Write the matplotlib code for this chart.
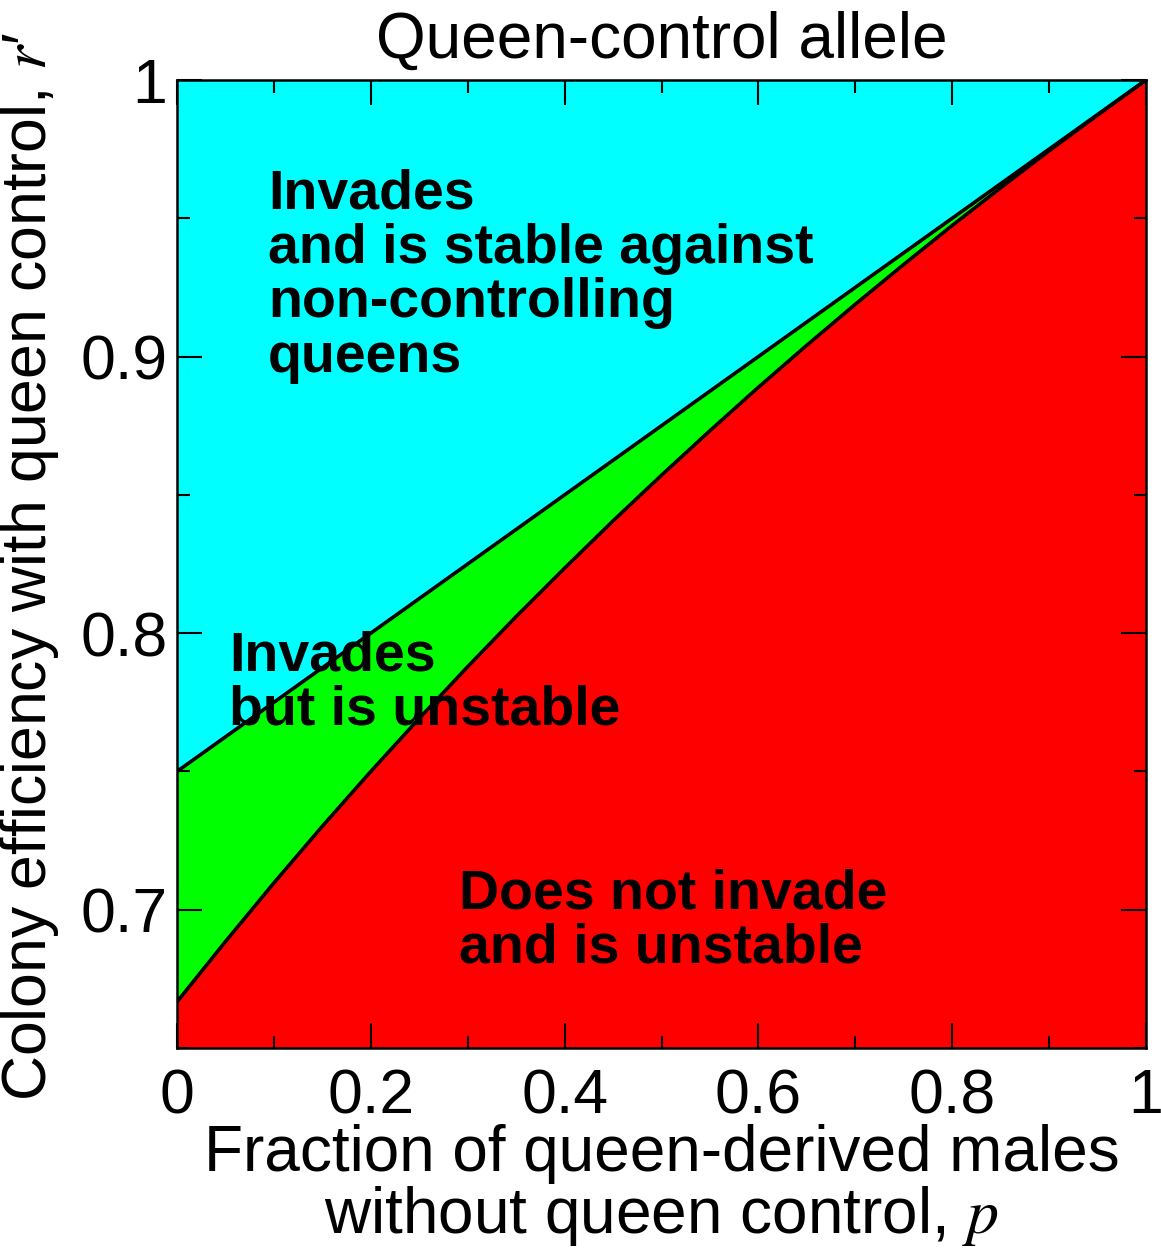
import numpy as np
import matplotlib
matplotlib.use("Agg")
import matplotlib.pyplot as plt
from matplotlib.ticker import MultipleLocator

plt.rcParams['font.family'] = ['Liberation Sans', 'DejaVu Sans']
plt.rcParams['mathtext.fontset'] = 'stix'

# boundaries
p = [0.0, 0.05, 0.1, 0.15, 0.2, 0.25, 0.3, 0.35, 0.4, 0.45, 0.5,
     0.55, 0.6, 0.65, 0.7, 0.75, 0.8, 0.85, 0.9, 0.95, 1.0]
r_stable = [0.75, 0.7625, 0.775, 0.7875, 0.8, 0.8125, 0.825, 0.8375, 0.85, 0.8625, 0.875,
            0.8875, 0.9, 0.9125, 0.925, 0.9375, 0.95, 0.9625, 0.975, 0.9875, 1.0]
r_invade = [0.6667, 0.6885, 0.7097, 0.7302, 0.75, 0.7692, 0.7879, 0.806, 0.8235, 0.8406, 0.8571,
            0.8732, 0.8889, 0.9041, 0.9189, 0.9333, 0.9474, 0.961, 0.9744, 0.9873, 1.0]

ymin = 0.65

fig = plt.figure(figsize=(11.61, 12.53), dpi=100)
ax = fig.add_axes([0.1525, 0.1636, 0.8346, 0.7726])
ax.set_facecolor('#00ffff')

ax.fill_between(p, r_invade, r_stable, color='#00ff00', lw=0)
ax.fill_between(p, ymin, r_invade, color='#ff0000', lw=0)
ax.plot(p, r_stable, color='black', lw=2.6, solid_joinstyle='round')
ax.plot(p, r_invade, color='black', lw=2.6, solid_joinstyle='round')

ax.set_xlim(0, 1)
ax.set_ylim(ymin, 1)
ax.xaxis.set_minor_locator(MultipleLocator(0.1))
ax.yaxis.set_minor_locator(MultipleLocator(0.05))
ax.set_xticks([0, 0.2, 0.4, 0.6, 0.8, 1.0])
ax.set_xticklabels(['0', '0.2', '0.4', '0.6', '0.8', '1'])
ax.set_yticks([0.7, 0.8, 0.9, 1.0])
ax.set_yticklabels(['0.7', '0.8', '0.9', '1'])
ax.tick_params(which='both', direction='in', top=True, right=True, width=1.5, labelsize=45)
ax.tick_params(which='major', length=18)
ax.tick_params(which='minor', length=9)
ax.tick_params(axis='x', pad=14)
ax.tick_params(axis='y', pad=7)
for s in ax.spines.values():
    s.set_linewidth(1.8)

ax.set_title('Queen-control allele', fontsize=46, pad=16)
ax.set_xlabel('Fraction of queen-derived males\nwithout queen control, $\\it{p}$',
              fontsize=46, linespacing=0.98)
ax.xaxis.set_label_coords(0.5, -0.079)
ax.set_ylabel("Colony efficiency with queen control, $\\it{r}$\u2032", fontsize=45)
ax.yaxis.set_label_coords(-0.12, 0.497)

kw = dict(fontsize=40, fontweight='bold', va='top', ha='left', linespacing=1.06)
ax.text(0.094, 0.968, 'Invades\nand is stable against\nnon-controlling\nqueens', **kw)
ax.text(0.054, 0.801, 'Invades\nbut is unstable', **kw)
ax.text(0.291, 0.715, 'Does not invade\nand is unstable', **kw)

fig.savefig('out.png', dpi=100)
